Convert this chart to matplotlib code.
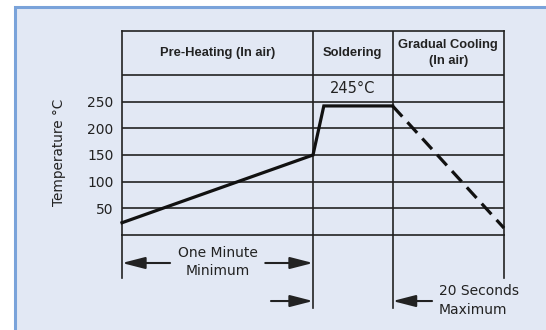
import matplotlib.pyplot as plt
from matplotlib.patches import Rectangle

# soldering profile (x is schematic time, y is temperature in C)
zone_edges = [0, 60, 85, 120]
zone_names = ["Pre-Heating (In air)", "Soldering", "Gradual Cooling\n(In air)"]
profile_x = [0, 60, 63.4, 85]
profile_t = [23, 150, 242, 242]
cooling_x = [85, 120]
cooling_t = [242, 13]
temp_ticks = [50, 100, 150, 200, 250]
header_bottom = 300
header_top = 382.5
peak_label = "245°C"

ink = "#222222"
panel = "#e2e8f4"

plt.rcParams['font.family'] = ['DejaVu Sans']
fig = plt.figure(figsize=(5.46, 3.30), dpi=100)
fig.patch.set_facecolor("white")

# light blue panel with a border
fig.patches.append(Rectangle((15 / 546, -0.1), 1.2, (330 - 6.5) / 330 + 0.1,
                             transform=fig.transFigure, facecolor=panel,
                             edgecolor="#7aa3da", linewidth=2.2, zorder=-10))

ax = fig.add_axes([122 / 546, (330 - 235) / 330, (504 - 122) / 546, (235 - 31) / 330])
ax.set_zorder(1)
ax.set_facecolor("none")
ax.set_xlim(zone_edges[0], zone_edges[-1])
ax.set_ylim(0, header_top)
ax.set_xticks([])
ax.set_yticks(temp_ticks)
ax.tick_params(axis="y", length=0, pad=6, labelsize=10, labelcolor=ink)
for s in ax.spines.values():
    s.set_color(ink)
    s.set_linewidth(1.2)

# table lines
for t in temp_ticks + [header_bottom]:
    ax.axhline(t, color=ink, lw=1.2, zorder=1)
for x in zone_edges[1:-1]:
    ax.axvline(x, color=ink, lw=1.2, zorder=1)

# header labels
for i, name in enumerate(zone_names):
    xc = (zone_edges[i] + zone_edges[i + 1]) / 2
    ax.text(xc, (header_bottom + header_top) / 2, name, ha="center", va="center",
            fontsize=9.3, fontweight="bold", family="Liberation Sans", color=ink,
            linespacing=1.55)

ax.text((zone_edges[1] + zone_edges[2]) / 2, 275, peak_label, ha="center", va="center",
        fontsize=10.5, color=ink)

ax.text(-0.165, 0.405, "Temperature °C", transform=ax.transAxes, rotation=90,
        ha="center", va="center", fontsize=9.8, color=ink)

# profile
ax.plot(profile_x, profile_t, color="#111111", lw=2.3, clip_on=False, zorder=3,
        solid_joinstyle="miter")
ax.plot(cooling_x, cooling_t, color="#111111", lw=2.3, clip_on=False, zorder=3,
        dashes=(4.5, 2.4))

# dimension lines under the table
ax.plot([zone_edges[0]] * 2, [0, -81], color=ink, lw=1.2, clip_on=False)
ax.plot([zone_edges[3]] * 2, [0, -81], color=ink, lw=1.2, clip_on=False)
ax.plot([zone_edges[1]] * 2, [0, -137], color=ink, lw=1.2, clip_on=False)
ax.plot([zone_edges[2]] * 2, [0, -137], color=ink, lw=1.2, clip_on=False)

arrow = dict(arrowstyle="-|>,head_length=1.4,head_width=0.36", mutation_scale=10,
             lw=1.5, color=ink, shrinkA=0, shrinkB=0)
y1, y2 = -52.5, -123.8
ax.annotate("", xy=(zone_edges[0], y1), xytext=(15.1, y1), arrowprops=arrow,
            annotation_clip=False)
ax.annotate("", xy=(zone_edges[1], y1), xytext=(45, y1), arrowprops=arrow,
            annotation_clip=False)
ax.annotate("", xy=(zone_edges[1], y2), xytext=(46.8, y2), arrowprops=arrow,
            annotation_clip=False)
ax.annotate("", xy=(zone_edges[2], y2), xytext=(97.4, y2), arrowprops=arrow,
            annotation_clip=False)

ax.text(30.2, -51, "One Minute\nMinimum", ha="center", va="center", fontsize=10,
        color=ink, linespacing=1.4)
ax.text(99.6, -123, "20 Seconds\nMaximum", ha="left", va="center", fontsize=10,
        color=ink, linespacing=1.4)

fig.savefig("out.png", dpi=100)
